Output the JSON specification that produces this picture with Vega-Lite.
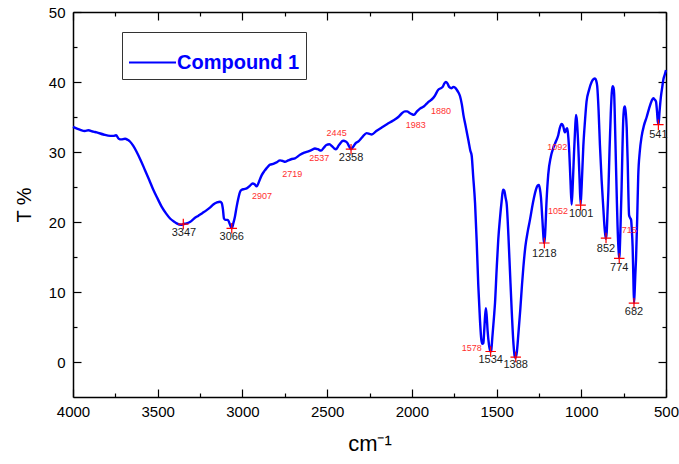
{
  "$schema": "https://vega.github.io/schema/vega-lite/v6.json",
  "width": 593,
  "height": 385,
  "autosize": {"type": "none"},
  "padding": {"left": 73, "top": 12, "right": 13, "bottom": 67},
  "background": "white",
  "config": {
    "view": {"stroke": null},
    "axis": {
      "grid": false,
      "domainColor": "#000000",
      "domainWidth": 1.5,
      "tickColor": "#000000",
      "tickWidth": 1.2,
      "labelColor": "#000000",
      "labelFont": "Liberation Sans",
      "labelFontSize": 15,
      "labelFlush": false,
      "titleFont": "Liberation Sans",
      "titleColor": "#000000",
      "titleFontWeight": "normal"
    },
    "legend": {"strokeWidth": 1}
  },
  "resolve": {"axis": {"x": "independent", "y": "independent"}},
  "layer": [
    {
      "data": {"values": [
        {"wn": 4000, "t": 33.6, "series": "Compound 1"},
        {"wn": 3960, "t": 33.2, "series": "Compound 1"},
        {"wn": 3930, "t": 33.0, "series": "Compound 1"},
        {"wn": 3910, "t": 33.1, "series": "Compound 1"},
        {"wn": 3880, "t": 32.9, "series": "Compound 1"},
        {"wn": 3860, "t": 32.8, "series": "Compound 1"},
        {"wn": 3820, "t": 32.5, "series": "Compound 1"},
        {"wn": 3780, "t": 32.3, "series": "Compound 1"},
        {"wn": 3762, "t": 32.3, "series": "Compound 1"},
        {"wn": 3746, "t": 32.4, "series": "Compound 1"},
        {"wn": 3730, "t": 31.9, "series": "Compound 1"},
        {"wn": 3715, "t": 31.8, "series": "Compound 1"},
        {"wn": 3693, "t": 31.9, "series": "Compound 1"},
        {"wn": 3675, "t": 31.7, "series": "Compound 1"},
        {"wn": 3664, "t": 31.5, "series": "Compound 1"},
        {"wn": 3645, "t": 30.9, "series": "Compound 1"},
        {"wn": 3624, "t": 30.0, "series": "Compound 1"},
        {"wn": 3600, "t": 28.8, "series": "Compound 1"},
        {"wn": 3575, "t": 27.4, "series": "Compound 1"},
        {"wn": 3550, "t": 26.0, "series": "Compound 1"},
        {"wn": 3526, "t": 24.6, "series": "Compound 1"},
        {"wn": 3500, "t": 23.3, "series": "Compound 1"},
        {"wn": 3477, "t": 22.2, "series": "Compound 1"},
        {"wn": 3450, "t": 21.2, "series": "Compound 1"},
        {"wn": 3427, "t": 20.5, "series": "Compound 1"},
        {"wn": 3400, "t": 20.0, "series": "Compound 1"},
        {"wn": 3388, "t": 19.8, "series": "Compound 1"},
        {"wn": 3360, "t": 19.6, "series": "Compound 1"},
        {"wn": 3349, "t": 19.7, "series": "Compound 1"},
        {"wn": 3330, "t": 19.8, "series": "Compound 1"},
        {"wn": 3310, "t": 20.0, "series": "Compound 1"},
        {"wn": 3285, "t": 20.5, "series": "Compound 1"},
        {"wn": 3260, "t": 20.9, "series": "Compound 1"},
        {"wn": 3235, "t": 21.3, "series": "Compound 1"},
        {"wn": 3211, "t": 21.7, "series": "Compound 1"},
        {"wn": 3190, "t": 22.1, "series": "Compound 1"},
        {"wn": 3172, "t": 22.5, "series": "Compound 1"},
        {"wn": 3150, "t": 22.8, "series": "Compound 1"},
        {"wn": 3132, "t": 22.9, "series": "Compound 1"},
        {"wn": 3122, "t": 22.7, "series": "Compound 1"},
        {"wn": 3115, "t": 21.8, "series": "Compound 1"},
        {"wn": 3109, "t": 20.5, "series": "Compound 1"},
        {"wn": 3100, "t": 20.3, "series": "Compound 1"},
        {"wn": 3088, "t": 20.3, "series": "Compound 1"},
        {"wn": 3083, "t": 20.2, "series": "Compound 1"},
        {"wn": 3073, "t": 19.6, "series": "Compound 1"},
        {"wn": 3063, "t": 19.1, "series": "Compound 1"},
        {"wn": 3054, "t": 19.8, "series": "Compound 1"},
        {"wn": 3044, "t": 20.8, "series": "Compound 1"},
        {"wn": 3034, "t": 22.2, "series": "Compound 1"},
        {"wn": 3024, "t": 23.4, "series": "Compound 1"},
        {"wn": 3014, "t": 24.3, "series": "Compound 1"},
        {"wn": 3004, "t": 24.6, "series": "Compound 1"},
        {"wn": 2990, "t": 24.7, "series": "Compound 1"},
        {"wn": 2975, "t": 24.8, "series": "Compound 1"},
        {"wn": 2955, "t": 25.2, "series": "Compound 1"},
        {"wn": 2940, "t": 25.5, "series": "Compound 1"},
        {"wn": 2928, "t": 25.4, "series": "Compound 1"},
        {"wn": 2916, "t": 25.1, "series": "Compound 1"},
        {"wn": 2900, "t": 25.9, "series": "Compound 1"},
        {"wn": 2886, "t": 26.7, "series": "Compound 1"},
        {"wn": 2870, "t": 27.3, "series": "Compound 1"},
        {"wn": 2857, "t": 27.7, "series": "Compound 1"},
        {"wn": 2837, "t": 28.2, "series": "Compound 1"},
        {"wn": 2818, "t": 28.3, "series": "Compound 1"},
        {"wn": 2800, "t": 28.5, "series": "Compound 1"},
        {"wn": 2778, "t": 28.8, "series": "Compound 1"},
        {"wn": 2760, "t": 28.7, "series": "Compound 1"},
        {"wn": 2749, "t": 28.6, "series": "Compound 1"},
        {"wn": 2730, "t": 28.8, "series": "Compound 1"},
        {"wn": 2709, "t": 29.0, "series": "Compound 1"},
        {"wn": 2690, "t": 29.1, "series": "Compound 1"},
        {"wn": 2660, "t": 29.6, "series": "Compound 1"},
        {"wn": 2635, "t": 29.9, "series": "Compound 1"},
        {"wn": 2611, "t": 30.1, "series": "Compound 1"},
        {"wn": 2590, "t": 30.3, "series": "Compound 1"},
        {"wn": 2572, "t": 30.5, "series": "Compound 1"},
        {"wn": 2555, "t": 30.4, "series": "Compound 1"},
        {"wn": 2536, "t": 30.2, "series": "Compound 1"},
        {"wn": 2520, "t": 30.6, "series": "Compound 1"},
        {"wn": 2505, "t": 31.0, "series": "Compound 1"},
        {"wn": 2487, "t": 31.1, "series": "Compound 1"},
        {"wn": 2470, "t": 30.8, "series": "Compound 1"},
        {"wn": 2458, "t": 30.5, "series": "Compound 1"},
        {"wn": 2448, "t": 30.4, "series": "Compound 1"},
        {"wn": 2430, "t": 31.0, "series": "Compound 1"},
        {"wn": 2405, "t": 31.6, "series": "Compound 1"},
        {"wn": 2390, "t": 31.5, "series": "Compound 1"},
        {"wn": 2381, "t": 31.3, "series": "Compound 1"},
        {"wn": 2370, "t": 30.8, "series": "Compound 1"},
        {"wn": 2359, "t": 30.4, "series": "Compound 1"},
        {"wn": 2345, "t": 30.8, "series": "Compound 1"},
        {"wn": 2330, "t": 31.3, "series": "Compound 1"},
        {"wn": 2316, "t": 31.5, "series": "Compound 1"},
        {"wn": 2290, "t": 32.2, "series": "Compound 1"},
        {"wn": 2267, "t": 32.7, "series": "Compound 1"},
        {"wn": 2250, "t": 32.6, "series": "Compound 1"},
        {"wn": 2237, "t": 32.5, "series": "Compound 1"},
        {"wn": 2210, "t": 33.0, "series": "Compound 1"},
        {"wn": 2178, "t": 33.5, "series": "Compound 1"},
        {"wn": 2145, "t": 34.0, "series": "Compound 1"},
        {"wn": 2110, "t": 34.5, "series": "Compound 1"},
        {"wn": 2080, "t": 35.0, "series": "Compound 1"},
        {"wn": 2060, "t": 35.5, "series": "Compound 1"},
        {"wn": 2041, "t": 35.8, "series": "Compound 1"},
        {"wn": 2028, "t": 35.8, "series": "Compound 1"},
        {"wn": 2015, "t": 35.6, "series": "Compound 1"},
        {"wn": 2000, "t": 35.4, "series": "Compound 1"},
        {"wn": 1988, "t": 35.3, "series": "Compound 1"},
        {"wn": 1970, "t": 35.8, "series": "Compound 1"},
        {"wn": 1952, "t": 36.2, "series": "Compound 1"},
        {"wn": 1930, "t": 36.5, "series": "Compound 1"},
        {"wn": 1913, "t": 36.9, "series": "Compound 1"},
        {"wn": 1900, "t": 37.2, "series": "Compound 1"},
        {"wn": 1883, "t": 37.5, "series": "Compound 1"},
        {"wn": 1865, "t": 38.0, "series": "Compound 1"},
        {"wn": 1844, "t": 38.9, "series": "Compound 1"},
        {"wn": 1830, "t": 39.1, "series": "Compound 1"},
        {"wn": 1818, "t": 39.3, "series": "Compound 1"},
        {"wn": 1808, "t": 39.8, "series": "Compound 1"},
        {"wn": 1799, "t": 40.0, "series": "Compound 1"},
        {"wn": 1790, "t": 39.8, "series": "Compound 1"},
        {"wn": 1780, "t": 39.3, "series": "Compound 1"},
        {"wn": 1765, "t": 39.1, "series": "Compound 1"},
        {"wn": 1755, "t": 39.3, "series": "Compound 1"},
        {"wn": 1745, "t": 39.2, "series": "Compound 1"},
        {"wn": 1735, "t": 38.9, "series": "Compound 1"},
        {"wn": 1725, "t": 38.5, "series": "Compound 1"},
        {"wn": 1716, "t": 38.0, "series": "Compound 1"},
        {"wn": 1705, "t": 36.8, "series": "Compound 1"},
        {"wn": 1695, "t": 35.2, "series": "Compound 1"},
        {"wn": 1685, "t": 34.0, "series": "Compound 1"},
        {"wn": 1677, "t": 33.0, "series": "Compound 1"},
        {"wn": 1665, "t": 31.5, "series": "Compound 1"},
        {"wn": 1655, "t": 30.2, "series": "Compound 1"},
        {"wn": 1647, "t": 29.5, "series": "Compound 1"},
        {"wn": 1638, "t": 26.5, "series": "Compound 1"},
        {"wn": 1627, "t": 22.7, "series": "Compound 1"},
        {"wn": 1617, "t": 17.0, "series": "Compound 1"},
        {"wn": 1608, "t": 11.0, "series": "Compound 1"},
        {"wn": 1598, "t": 6.0, "series": "Compound 1"},
        {"wn": 1590, "t": 3.2, "series": "Compound 1"},
        {"wn": 1584, "t": 2.6, "series": "Compound 1"},
        {"wn": 1578, "t": 2.7, "series": "Compound 1"},
        {"wn": 1574, "t": 4.0, "series": "Compound 1"},
        {"wn": 1568, "t": 6.5, "series": "Compound 1"},
        {"wn": 1563, "t": 7.7, "series": "Compound 1"},
        {"wn": 1558, "t": 6.5, "series": "Compound 1"},
        {"wn": 1553, "t": 4.5, "series": "Compound 1"},
        {"wn": 1545, "t": 2.5, "series": "Compound 1"},
        {"wn": 1537, "t": 1.5, "series": "Compound 1"},
        {"wn": 1532, "t": 1.6, "series": "Compound 1"},
        {"wn": 1525, "t": 3.5, "series": "Compound 1"},
        {"wn": 1515, "t": 6.5, "series": "Compound 1"},
        {"wn": 1509, "t": 8.5, "series": "Compound 1"},
        {"wn": 1500, "t": 13.0, "series": "Compound 1"},
        {"wn": 1490, "t": 17.5, "series": "Compound 1"},
        {"wn": 1480, "t": 20.5, "series": "Compound 1"},
        {"wn": 1470, "t": 23.0, "series": "Compound 1"},
        {"wn": 1462, "t": 24.6, "series": "Compound 1"},
        {"wn": 1455, "t": 24.5, "series": "Compound 1"},
        {"wn": 1447, "t": 23.5, "series": "Compound 1"},
        {"wn": 1440, "t": 22.5, "series": "Compound 1"},
        {"wn": 1430, "t": 18.0, "series": "Compound 1"},
        {"wn": 1421, "t": 13.0, "series": "Compound 1"},
        {"wn": 1410, "t": 7.0, "series": "Compound 1"},
        {"wn": 1400, "t": 2.5, "series": "Compound 1"},
        {"wn": 1393, "t": 0.8, "series": "Compound 1"},
        {"wn": 1388, "t": 0.6, "series": "Compound 1"},
        {"wn": 1380, "t": 1.5, "series": "Compound 1"},
        {"wn": 1372, "t": 3.8, "series": "Compound 1"},
        {"wn": 1360, "t": 7.5, "series": "Compound 1"},
        {"wn": 1350, "t": 11.0, "series": "Compound 1"},
        {"wn": 1342, "t": 13.5, "series": "Compound 1"},
        {"wn": 1330, "t": 16.5, "series": "Compound 1"},
        {"wn": 1315, "t": 18.8, "series": "Compound 1"},
        {"wn": 1303, "t": 20.3, "series": "Compound 1"},
        {"wn": 1285, "t": 22.8, "series": "Compound 1"},
        {"wn": 1268, "t": 24.6, "series": "Compound 1"},
        {"wn": 1258, "t": 25.2, "series": "Compound 1"},
        {"wn": 1250, "t": 25.3, "series": "Compound 1"},
        {"wn": 1244, "t": 24.7, "series": "Compound 1"},
        {"wn": 1238, "t": 23.5, "series": "Compound 1"},
        {"wn": 1230, "t": 20.5, "series": "Compound 1"},
        {"wn": 1222, "t": 17.5, "series": "Compound 1"},
        {"wn": 1218, "t": 17.0, "series": "Compound 1"},
        {"wn": 1213, "t": 18.5, "series": "Compound 1"},
        {"wn": 1205, "t": 23.0, "series": "Compound 1"},
        {"wn": 1195, "t": 26.8, "series": "Compound 1"},
        {"wn": 1180, "t": 29.3, "series": "Compound 1"},
        {"wn": 1166, "t": 30.5, "series": "Compound 1"},
        {"wn": 1150, "t": 31.5, "series": "Compound 1"},
        {"wn": 1136, "t": 32.4, "series": "Compound 1"},
        {"wn": 1126, "t": 33.5, "series": "Compound 1"},
        {"wn": 1116, "t": 34.0, "series": "Compound 1"},
        {"wn": 1108, "t": 33.8, "series": "Compound 1"},
        {"wn": 1100, "t": 33.0, "series": "Compound 1"},
        {"wn": 1096, "t": 32.8, "series": "Compound 1"},
        {"wn": 1090, "t": 33.2, "series": "Compound 1"},
        {"wn": 1083, "t": 33.4, "series": "Compound 1"},
        {"wn": 1078, "t": 32.5, "series": "Compound 1"},
        {"wn": 1071, "t": 30.0, "series": "Compound 1"},
        {"wn": 1064, "t": 26.0, "series": "Compound 1"},
        {"wn": 1057, "t": 22.5, "series": "Compound 1"},
        {"wn": 1050, "t": 25.5, "series": "Compound 1"},
        {"wn": 1043, "t": 29.8, "series": "Compound 1"},
        {"wn": 1036, "t": 33.5, "series": "Compound 1"},
        {"wn": 1031, "t": 35.3, "series": "Compound 1"},
        {"wn": 1026, "t": 34.5, "series": "Compound 1"},
        {"wn": 1018, "t": 31.0, "series": "Compound 1"},
        {"wn": 1010, "t": 26.0, "series": "Compound 1"},
        {"wn": 1004, "t": 22.5, "series": "Compound 1"},
        {"wn": 998, "t": 25.0, "series": "Compound 1"},
        {"wn": 988, "t": 30.8, "series": "Compound 1"},
        {"wn": 978, "t": 34.5, "series": "Compound 1"},
        {"wn": 969, "t": 37.2, "series": "Compound 1"},
        {"wn": 955, "t": 38.8, "series": "Compound 1"},
        {"wn": 939, "t": 40.0, "series": "Compound 1"},
        {"wn": 928, "t": 40.4, "series": "Compound 1"},
        {"wn": 919, "t": 40.5, "series": "Compound 1"},
        {"wn": 912, "t": 40.2, "series": "Compound 1"},
        {"wn": 906, "t": 39.4, "series": "Compound 1"},
        {"wn": 898, "t": 36.0, "series": "Compound 1"},
        {"wn": 890, "t": 31.0, "series": "Compound 1"},
        {"wn": 880, "t": 26.0, "series": "Compound 1"},
        {"wn": 870, "t": 22.0, "series": "Compound 1"},
        {"wn": 862, "t": 19.0, "series": "Compound 1"},
        {"wn": 855, "t": 17.6, "series": "Compound 1"},
        {"wn": 850, "t": 18.5, "series": "Compound 1"},
        {"wn": 845, "t": 21.5, "series": "Compound 1"},
        {"wn": 840, "t": 24.5, "series": "Compound 1"},
        {"wn": 833, "t": 30.5, "series": "Compound 1"},
        {"wn": 826, "t": 35.5, "series": "Compound 1"},
        {"wn": 820, "t": 38.5, "series": "Compound 1"},
        {"wn": 815, "t": 39.4, "series": "Compound 1"},
        {"wn": 810, "t": 39.2, "series": "Compound 1"},
        {"wn": 806, "t": 38.3, "series": "Compound 1"},
        {"wn": 801, "t": 34.0, "series": "Compound 1"},
        {"wn": 796, "t": 28.9, "series": "Compound 1"},
        {"wn": 790, "t": 23.0, "series": "Compound 1"},
        {"wn": 786, "t": 19.5, "series": "Compound 1"},
        {"wn": 780, "t": 16.0, "series": "Compound 1"},
        {"wn": 776, "t": 14.8, "series": "Compound 1"},
        {"wn": 770, "t": 18.0, "series": "Compound 1"},
        {"wn": 766, "t": 21.5, "series": "Compound 1"},
        {"wn": 762, "t": 25.0, "series": "Compound 1"},
        {"wn": 757, "t": 30.5, "series": "Compound 1"},
        {"wn": 752, "t": 34.8, "series": "Compound 1"},
        {"wn": 746, "t": 36.4, "series": "Compound 1"},
        {"wn": 742, "t": 36.5, "series": "Compound 1"},
        {"wn": 737, "t": 35.5, "series": "Compound 1"},
        {"wn": 732, "t": 33.5, "series": "Compound 1"},
        {"wn": 726, "t": 28.5, "series": "Compound 1"},
        {"wn": 722, "t": 24.0, "series": "Compound 1"},
        {"wn": 718, "t": 21.0, "series": "Compound 1"},
        {"wn": 712, "t": 20.6, "series": "Compound 1"},
        {"wn": 706, "t": 20.3, "series": "Compound 1"},
        {"wn": 702, "t": 19.0, "series": "Compound 1"},
        {"wn": 697, "t": 16.5, "series": "Compound 1"},
        {"wn": 693, "t": 12.5, "series": "Compound 1"},
        {"wn": 689, "t": 8.4, "series": "Compound 1"},
        {"wn": 685, "t": 10.0, "series": "Compound 1"},
        {"wn": 681, "t": 12.5, "series": "Compound 1"},
        {"wn": 677, "t": 14.6, "series": "Compound 1"},
        {"wn": 670, "t": 20.5, "series": "Compound 1"},
        {"wn": 664, "t": 26.5, "series": "Compound 1"},
        {"wn": 655, "t": 30.0, "series": "Compound 1"},
        {"wn": 644, "t": 32.2, "series": "Compound 1"},
        {"wn": 630, "t": 33.8, "series": "Compound 1"},
        {"wn": 614, "t": 35.0, "series": "Compound 1"},
        {"wn": 600, "t": 36.2, "series": "Compound 1"},
        {"wn": 585, "t": 37.3, "series": "Compound 1"},
        {"wn": 575, "t": 37.7, "series": "Compound 1"},
        {"wn": 567, "t": 37.5, "series": "Compound 1"},
        {"wn": 559, "t": 37.2, "series": "Compound 1"},
        {"wn": 553, "t": 35.8, "series": "Compound 1"},
        {"wn": 547, "t": 34.0, "series": "Compound 1"},
        {"wn": 543, "t": 34.2, "series": "Compound 1"},
        {"wn": 538, "t": 35.8, "series": "Compound 1"},
        {"wn": 530, "t": 37.9, "series": "Compound 1"},
        {"wn": 522, "t": 39.3, "series": "Compound 1"},
        {"wn": 516, "t": 40.3, "series": "Compound 1"},
        {"wn": 508, "t": 41.0, "series": "Compound 1"},
        {"wn": 500, "t": 41.7, "series": "Compound 1"}
      ]},
      "mark": {"type": "line", "interpolate": "monotone", "strokeWidth": 2.4},
      "encoding": {
        "x": {
          "field": "wn", "type": "quantitative",
          "scale": {"domain": [500, 4000], "reverse": true, "nice": false, "zero": false},
          "axis": {
            "orient": "bottom",
            "values": [4000, 3500, 3000, 2500, 2000, 1500, 1000, 500],
            "format": "d",
            "tickSize": -8,
            "labelPadding": 15,
            "title": "cm⁻¹",
            "titleFontSize": 22,
            "titlePadding": 14
          }
        },
        "y": {
          "field": "t", "type": "quantitative",
          "scale": {"domain": [-5, 50], "nice": false, "zero": false},
          "axis": {
            "orient": "left",
            "values": [0, 10, 20, 30, 40, 50],
            "format": "d",
            "tickSize": -8,
            "labelPadding": 16,
            "title": "T %",
            "titleFontSize": 20,
            "titlePadding": 14
          }
        },
        "color": {
          "field": "series", "type": "nominal",
          "scale": {"range": ["#0000ff"]},
          "legend": {
            "orient": "none",
            "legendX": 49,
            "legendY": 20,
            "title": null,
            "symbolType": "stroke",
            "symbolSize": 2209,
            "symbolStrokeWidth": 2,
            "symbolStrokeColor": "#0000ff",
            "labelFont": "Liberation Sans",
            "labelFontSize": 20,
            "labelFontWeight": "bold",
            "labelColor": "#0000ff",
            "labelOffset": 0,
            "strokeColor": "#333333",
            "padding": 6
          }
        }
      }
    },
    {
      "data": {"values": [
        {"wn": 3349, "t": 19.7},
        {"wn": 3063, "t": 19.1},
        {"wn": 2359, "t": 30.4},
        {"wn": 1535, "t": 1.5},
        {"wn": 1387, "t": 0.7},
        {"wn": 1218, "t": 17.0},
        {"wn": 1004, "t": 22.4},
        {"wn": 854, "t": 17.7},
        {"wn": 776, "t": 14.8},
        {"wn": 689, "t": 8.4},
        {"wn": 545, "t": 33.9}
      ]},
      "mark": {"type": "point", "shape": "M-1,0H1M0,-1V1", "size": 110, "filled": false, "stroke": "#ff0000", "strokeWidth": 1.2, "opacity": 1},
      "encoding": {
        "x": {
          "field": "wn", "type": "quantitative",
          "scale": {"domain": [500, 4000], "reverse": true, "nice": false, "zero": false},
          "axis": {"orient": "bottom", "values": [3750, 3250, 2750, 2250, 1750, 1250, 750], "tickSize": -4, "labels": false, "domain": false, "title": null}
        },
        "y": {
          "field": "t", "type": "quantitative",
          "scale": {"domain": [-5, 50], "nice": false, "zero": false},
          "axis": {"orient": "left", "values": [5, 15, 25, 35, 45], "tickSize": -4, "labels": false, "domain": false, "title": null}
        }
      }
    },
    {
      "data": {"values": [
        {"wn": 3345, "t": 18.4, "label": "3347"},
        {"wn": 3063, "t": 17.9, "label": "3066"},
        {"wn": 2359, "t": 29.1, "label": "2358"},
        {"wn": 1535, "t": 0.3, "label": "1534"},
        {"wn": 1387, "t": -0.4, "label": "1388"},
        {"wn": 1218, "t": 15.5, "label": "1218"},
        {"wn": 1001, "t": 21.2, "label": "1001"},
        {"wn": 854, "t": 16.2, "label": "852"},
        {"wn": 776, "t": 13.5, "label": "774"},
        {"wn": 689, "t": 7.2, "label": "682"},
        {"wn": 545, "t": 32.4, "label": "541"}
      ]},
      "mark": {"type": "text", "font": "Liberation Sans", "fontSize": 11, "fill": "#1a1a1a", "align": "center", "baseline": "middle"},
      "encoding": {
        "x": {
          "field": "wn", "type": "quantitative",
          "scale": {"domain": [500, 4000], "reverse": true, "nice": false, "zero": false},
          "axis": {"orient": "top", "values": [4000, 3500, 3000, 2500, 2000, 1500, 1000, 500], "tickSize": -8, "labels": false, "title": null}
        },
        "y": {
          "field": "t", "type": "quantitative",
          "scale": {"domain": [-5, 50], "nice": false, "zero": false},
          "axis": {"orient": "right", "values": [0, 10, 20, 30, 40, 50], "tickSize": -8, "labels": false, "title": null}
        },
        "text": {"field": "label", "type": "nominal"}
      }
    },
    {
      "data": {"values": [
        {"wn": 2884, "t": 23.7, "label": "2907"},
        {"wn": 2706, "t": 26.9, "label": "2719"},
        {"wn": 2546, "t": 29.1, "label": "2537"},
        {"wn": 2444, "t": 32.7, "label": "2445"},
        {"wn": 1977, "t": 33.9, "label": "1983"},
        {"wn": 1828, "t": 35.9, "label": "1880"},
        {"wn": 1647, "t": 2.0, "label": "1578"},
        {"wn": 1142, "t": 30.7, "label": "1092"},
        {"wn": 1138, "t": 21.6, "label": "1052"},
        {"wn": 717, "t": 18.9, "label": "715"}
      ]},
      "mark": {"type": "text", "font": "Liberation Sans", "fontSize": 9, "fill": "#ff3030", "align": "center", "baseline": "middle"},
      "encoding": {
        "x": {
          "field": "wn", "type": "quantitative",
          "scale": {"domain": [500, 4000], "reverse": true, "nice": false, "zero": false},
          "axis": {"orient": "top", "values": [3750, 3250, 2750, 2250, 1750, 1250, 750], "tickSize": -4, "labels": false, "domain": false, "title": null}
        },
        "y": {
          "field": "t", "type": "quantitative",
          "scale": {"domain": [-5, 50], "nice": false, "zero": false},
          "axis": {"orient": "right", "values": [5, 15, 25, 35, 45], "tickSize": -4, "labels": false, "domain": false, "title": null}
        },
        "text": {"field": "label", "type": "nominal"}
      }
    }
  ]
}
